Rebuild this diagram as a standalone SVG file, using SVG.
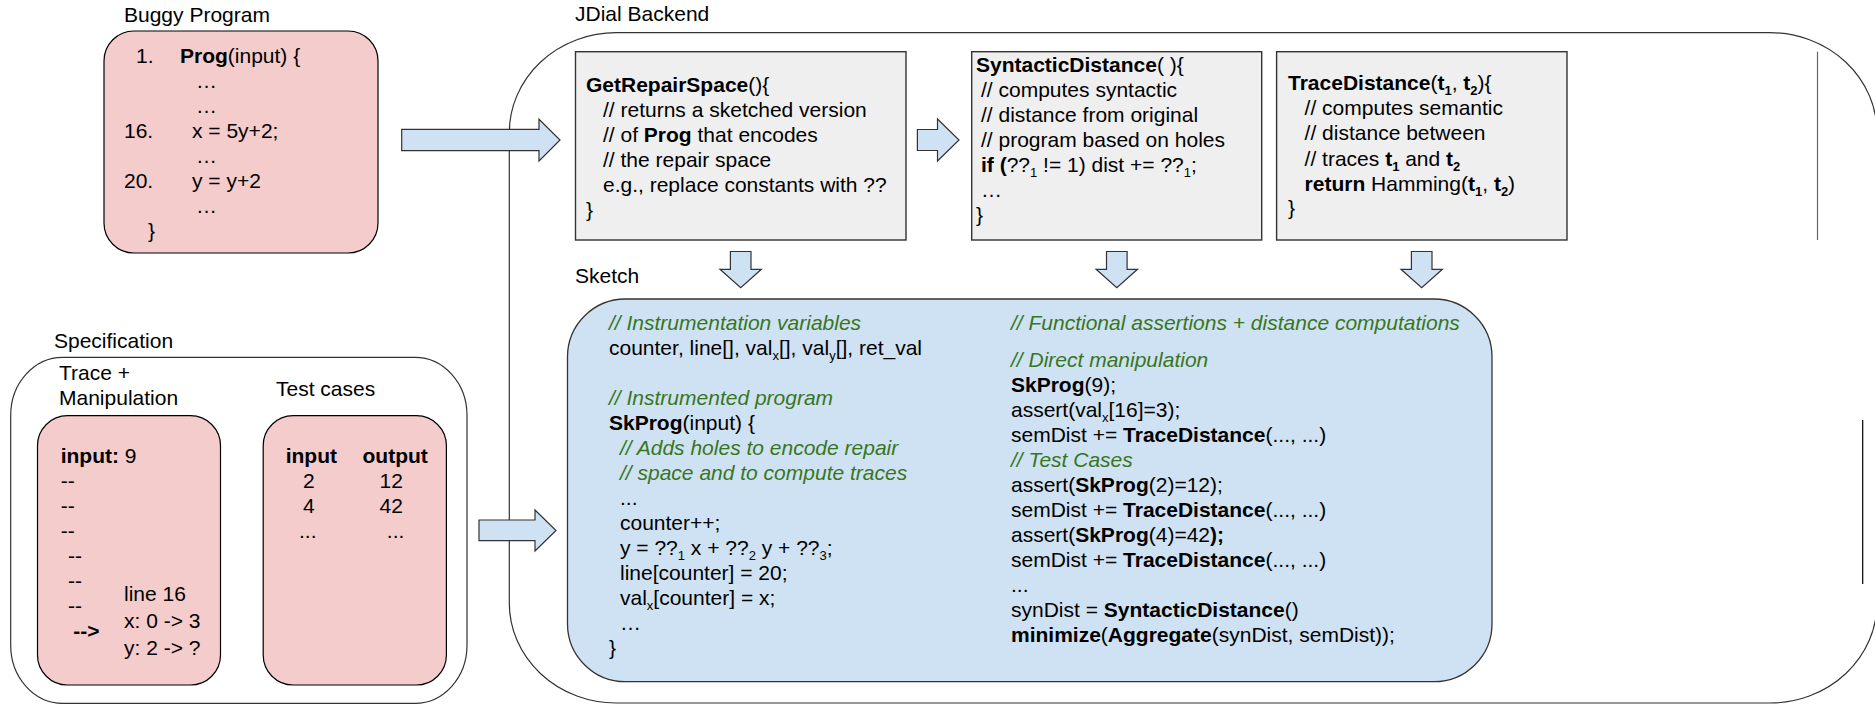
<svg xmlns="http://www.w3.org/2000/svg" width="1875" height="704" viewBox="0 0 1875 704">
  <style>
    text { font-family: "Liberation Sans", Arial, sans-serif; font-size: 21px; fill: #000; }
    .b { font-weight: bold; }
    .c { font-style: italic; fill: #38761d; }
    .s { font-size: 13px; }
    .pink { fill: #f4cccc; stroke: #000; stroke-width: 1.2; }
    .grey { fill: #efefef; stroke: #333; stroke-width: 1.4; }
    .frame { fill: none; stroke: #333; stroke-width: 1.2; }
    .blue { fill: #cfe2f3; stroke: #333; stroke-width: 1.3; }
    .arrow { fill: #cfe2f3; stroke: #333; stroke-width: 1.2; stroke-linejoin: miter; }
  </style>

  <!-- Buggy program -->
  <g id="buggy-program">
    <text x="124" y="22">Buggy Program</text>
    <rect class="pink" x="104" y="31" width="274" height="222" rx="30"/>
    <text x="136" y="63">1.</text>
    <text x="180" y="63" xml:space="preserve"><tspan class="b">Prog</tspan>(input) {</text>
    <text x="196" y="88">…</text>
    <text x="196" y="113">…</text>
    <text x="124" y="138">16.</text>
    <text x="192" y="138">x = 5y+2;</text>
    <text x="196" y="163">…</text>
    <text x="124" y="188">20.</text>
    <text x="192" y="188">y = y+2</text>
    <text x="196" y="213">…</text>
    <text x="148" y="238">}</text>
  </g>

  <!-- Specification -->
  <g id="specification">
    <text x="54" y="348">Specification</text>
    <rect class="frame" x="10.7" y="357.3" width="456.3" height="346" rx="52" ry="58" stroke="#000"/>
    <text x="59" y="380">Trace +</text>
    <text x="59" y="405">Manipulation</text>
    <text x="276" y="396">Test cases</text>
  </g>

  <g id="trace-manipulation">
    <rect class="pink" x="37.5" y="415.7" width="183" height="269.3" rx="30"/>
    <text x="60.7" y="462.7" xml:space="preserve"><tspan class="b">input:</tspan> 9</text>
    <text x="60.7" y="487.7">--</text>
    <text x="60.7" y="512.7">--</text>
    <text x="60.7" y="537.7">--</text>
    <text x="67.9" y="562.7">--</text>
    <text x="67.9" y="587.7">--</text>
    <text x="67.9" y="612.7">--</text>
    <text class="b" x="73.2" y="637.7">--&gt;</text>
    <text x="124" y="601">line 16</text>
    <text x="124" y="628">x: 0 -&gt; 3</text>
    <text x="124" y="655">y: 2 -&gt; ?</text>
  </g>

  <g id="test-cases">
    <rect class="pink" x="263.2" y="415.7" width="183.2" height="269.3" rx="30"/>
    <text class="b" x="285.7" y="462.7">input</text>
    <text class="b" x="362.5" y="462.7">output</text>
    <text x="303" y="487.7">2</text>
    <text x="379.6" y="487.7">12</text>
    <text x="303" y="512.7">4</text>
    <text x="379.6" y="512.7">42</text>
    <text x="299" y="537.7">...</text>
    <text x="386.8" y="537.7">...</text>
  </g>

  <!-- Backend frame -->
  <g id="jdial-backend">
    <text x="575" y="21">JDial Backend</text>
    <rect class="frame" x="509.3" y="32.7" width="1367.7" height="670.3" rx="107" ry="100"/>
    <line x1="1817.5" y1="51.7" x2="1817.5" y2="240" stroke="#666" stroke-width="1.2"/>
    <line x1="1862.7" y1="420" x2="1862.7" y2="584" stroke="#000" stroke-width="1.2"/>
  </g>

  <g id="get-repair-space">
    <rect class="grey" x="575.5" y="51.7" width="330.5" height="188.3"/>
    <text x="586" y="92"><tspan class="b">GetRepairSpace</tspan>(){</text>
    <text x="603" y="117">// returns a sketched version</text>
    <text x="603" y="142" xml:space="preserve">// of <tspan class="b">Prog</tspan> that encodes</text>
    <text x="603" y="167">// the repair space</text>
    <text x="603" y="192">e.g., replace constants with ??</text>
    <text x="586" y="217">}</text>
  </g>

  <g id="syntactic-distance">
    <rect class="grey" x="971.7" y="51.7" width="290" height="188.3"/>
    <text x="976" y="72"><tspan class="b">SyntacticDistance</tspan>( ){</text>
    <text x="981" y="97">// computes syntactic</text>
    <text x="981" y="122">// distance from original</text>
    <text x="981" y="147">// program based on holes</text>
    <text x="981" y="172" xml:space="preserve"><tspan class="b">if (</tspan>??<tspan class="s" dy="5">1</tspan><tspan dy="-5"> != 1) dist += ??</tspan><tspan class="s" dy="5">1</tspan><tspan dy="-5">;</tspan></text>
    <text x="981" y="197">…</text>
    <text x="976" y="222">}</text>
  </g>

  <g id="trace-distance">
    <rect class="grey" x="1276.6" y="51.7" width="290.4" height="188.3"/>
    <text x="1288" y="90" xml:space="preserve"><tspan class="b">TraceDistance</tspan>(<tspan class="b">t</tspan><tspan class="b s" dy="5">1</tspan><tspan dy="-5">, </tspan><tspan class="b">t</tspan><tspan class="b s" dy="5">2</tspan><tspan dy="-5">){</tspan></text>
    <text x="1304.6" y="115">// computes semantic</text>
    <text x="1304.6" y="140">// distance between</text>
    <text x="1304.6" y="165.7" xml:space="preserve">// traces <tspan class="b">t</tspan><tspan class="b s" dy="5">1</tspan><tspan dy="-5"> and </tspan><tspan class="b">t</tspan><tspan class="b s" dy="5">2</tspan></text>
    <text x="1304.6" y="190.7" xml:space="preserve"><tspan class="b">return</tspan> Hamming(<tspan class="b">t</tspan><tspan class="b s" dy="5">1</tspan><tspan dy="-5">, </tspan><tspan class="b">t</tspan><tspan class="b s" dy="5">2</tspan><tspan dy="-5">)</tspan></text>
    <text x="1288" y="215">}</text>
  </g>

  <!-- Sketch encoding -->
  <g id="sketch">
    <text x="575" y="283">Sketch</text>
    <rect class="blue" x="567.5" y="299" width="924.5" height="382.7" rx="58"/>
    <text class="c" x="609" y="330">// Instrumentation variables</text>
    <text x="609" y="355" xml:space="preserve">counter, line[], val<tspan class="s" dy="5">x</tspan><tspan dy="-5">[], val</tspan><tspan class="s" dy="5">y</tspan><tspan dy="-5">[], ret_val</tspan></text>
    <text class="c" x="609" y="405">// Instrumented program</text>
    <text x="609" y="430"><tspan class="b">SkProg</tspan>(input) {</text>
    <text class="c" x="620" y="455">// Adds holes to encode repair</text>
    <text class="c" x="620" y="480">// space and to compute traces</text>
    <text x="620" y="505">...</text>
    <text x="620" y="530">counter++;</text>
    <text x="620" y="555" xml:space="preserve">y = ??<tspan class="s" dy="5">1</tspan><tspan dy="-5"> x + ??</tspan><tspan class="s" dy="5">2</tspan><tspan dy="-5"> y + ??</tspan><tspan class="s" dy="5">3</tspan><tspan dy="-5">;</tspan></text>
    <text x="620" y="580">line[counter] = 20;</text>
    <text x="620" y="605" xml:space="preserve">val<tspan class="s" dy="5">x</tspan><tspan dy="-5">[counter] = x;</tspan></text>
    <text x="620" y="630">…</text>
    <text x="609" y="655">}</text>

    <text class="c" x="1011" y="330">// Functional assertions + distance computations</text>
    <text class="c" x="1011" y="367.3">// Direct manipulation</text>
    <text x="1011" y="392"><tspan class="b">SkProg</tspan>(9);</text>
    <text x="1011" y="417" xml:space="preserve">assert(val<tspan class="s" dy="5">x</tspan><tspan dy="-5">[16]=3);</tspan></text>
    <text x="1011" y="442" xml:space="preserve">semDist += <tspan class="b">TraceDistance</tspan>(..., ...)</text>
    <text class="c" x="1011" y="467">// Test Cases</text>
    <text x="1011" y="492">assert(<tspan class="b">SkProg</tspan>(2)=12);</text>
    <text x="1011" y="517" xml:space="preserve">semDist += <tspan class="b">TraceDistance</tspan>(..., ...)</text>
    <text x="1011" y="542">assert(<tspan class="b">SkProg</tspan>(4)=42<tspan class="b">);</tspan></text>
    <text x="1011" y="567" xml:space="preserve">semDist += <tspan class="b">TraceDistance</tspan>(..., ...)</text>
    <text x="1011" y="592">...</text>
    <text x="1011" y="617" xml:space="preserve">synDist = <tspan class="b">SyntacticDistance</tspan>()</text>
    <text x="1011" y="642" xml:space="preserve"><tspan class="b">minimize</tspan>(<tspan class="b">Aggregate</tspan>(synDist, semDist));</text>
  </g>

  <!-- Block arrows -->
  <g id="connectors">
    <polygon class="arrow" points="401.7,129.3 539,129.3 539,119.3 560,140 539,161 539,150.7 401.7,150.7"/>
    <polygon class="arrow" points="479,520 535,520 535,510 556,530.5 535,551 535,540.7 479,540.7"/>
    <polygon class="arrow" points="917.4,129.5 937.5,129.5 937.5,119 959,140 937.5,161 937.5,150.5 917.4,150.5"/>
    <polygon class="arrow" points="730.4,251.5 751,251.5 751,269.3 761.4,269.3 740.7,287.7 720,269.3 730.4,269.3"/>
    <polygon class="arrow" points="1106.5,251.5 1127.1,251.5 1127.1,269.3 1137.5,269.3 1116.8,287.7 1096.1,269.3 1106.5,269.3"/>
    <polygon class="arrow" points="1411.4,251.5 1432,251.5 1432,269.3 1442.4,269.3 1421.7,287.7 1401,269.3 1411.4,269.3"/>
  </g>
</svg>
